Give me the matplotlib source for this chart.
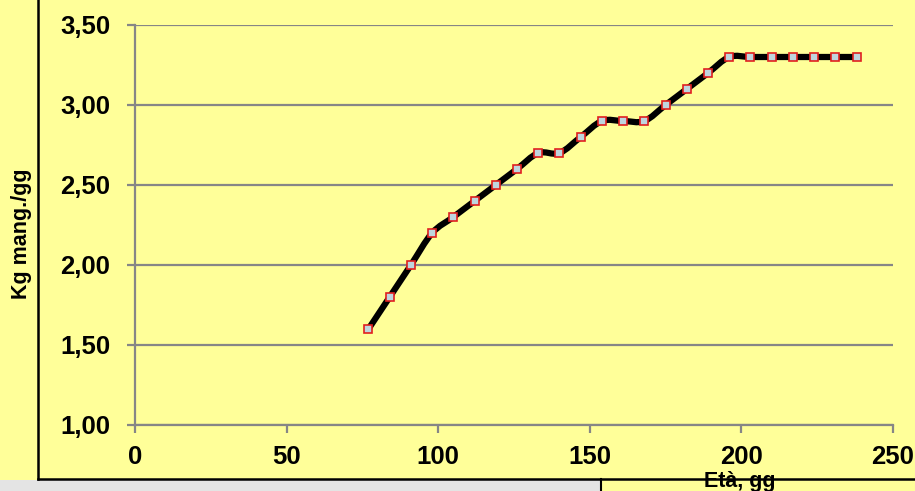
import matplotlib.pyplot as plt
from matplotlib.path import Path
from matplotlib.patches import PathPatch, Rectangle
from matplotlib.lines import Line2D
from matplotlib.ticker import FuncFormatter
import numpy as np

plt.rcParams['font.family'] = ['Liberation Sans', 'DejaVu Sans']

# eta' (giorni) e consumo di mangime (kg/giorno)
eta = [77, 84, 91, 98, 105, 112, 119, 126, 133, 140, 147, 154, 161, 168,
       175, 182, 189, 196, 203, 210, 217, 224, 231, 238]
kg_mang = [1.6, 1.8, 2.0, 2.2, 2.3, 2.4, 2.5, 2.6, 2.7, 2.7, 2.8, 2.9, 2.9, 2.9,
           3.0, 3.1, 3.2, 3.3, 3.3, 3.3, 3.3, 3.3, 3.3, 3.3]

x_ticks = [0, 50, 100, 150, 200, 250]
y_ticks = [1.0, 1.5, 2.0, 2.5, 3.0, 3.5]

giallo = '#FFFF99'
W, H = 915, 491

fig = plt.figure(figsize=(W / 100, H / 100), dpi=100, facecolor=giallo)
ax = fig.add_axes([135 / W, 1 - 425 / H, 758 / W, 400 / H])
ax.set_facecolor(giallo)

ax.set_xlim(0, 250)
ax.set_ylim(1.0, 3.5)
ax.set_xticks(x_ticks)
ax.set_yticks(y_ticks)
ax.yaxis.set_major_formatter(FuncFormatter(lambda v, p: f'{v:.2f}'.replace('.', ',')))

ax.grid(axis='y', color='#868686', lw=1.6)
ax.set_axisbelow(True)
for s in ['top', 'right']:
    ax.spines[s].set_visible(False)
for s in ['left', 'bottom']:
    ax.spines[s].set_color('#868686')
    ax.spines[s].set_linewidth(1.6)
ax.tick_params(axis='both', length=6, width=1.6, color='#868686',
               labelsize=18.5, direction='out')
ax.tick_params(axis='y', pad=12)
ax.tick_params(axis='x', pad=8.5)
for lab in ax.get_xticklabels() + ax.get_yticklabels():
    lab.set_fontweight('bold')

# curva smussata (Catmull-Rom -> Bezier) passante per i punti
pts = np.column_stack([eta, kg_mang]).astype(float)
verts = [pts[0]]
codes = [Path.MOVETO]
n = len(pts)
for i in range(n - 1):
    p0 = pts[i - 1] if i > 0 else pts[i]
    p1 = pts[i]
    p2 = pts[i + 1]
    p3 = pts[i + 2] if i + 2 < n else pts[i + 1]
    verts += [p1 + (p2 - p0) / 6, p2 - (p3 - p1) / 6, p2]
    codes += [Path.CURVE4] * 3
ax.add_patch(PathPatch(Path(verts, codes), fill=False, edgecolor='black',
                       lw=4.5, capstyle='round', joinstyle='round', zorder=3))
ax.plot(eta, kg_mang, ls='none', marker='s', ms=6, mfc='#bfd5de',
        mec='#e02020', mew=1.2, zorder=4)

# cornice dell'area grafico
fig.add_artist(Line2D([37.5 / W, 37.5 / W], [1, 1 - 479 / H], color='black', lw=1.8))
fig.add_artist(Line2D([37.5 / W, 1], [1 - 479 / H, 1 - 479 / H], color='black', lw=1.8))
fig.add_artist(Rectangle((0, 0), 601 / W, 1 - 480 / H, facecolor='#e4e4e4',
                         edgecolor='none'))
fig.add_artist(Line2D([601 / W, 601 / W], [0, 1 - 479 / H], color='black', lw=1.5))

fig.text(22 / W, 1 - 234 / H, 'Kg mang./gg', rotation=90, ha='center', va='center',
         fontsize=15.5, fontweight='bold')
fig.text(740 / W, 1 - 487 / H, 'Età, gg', ha='center', va='baseline',
         fontsize=15.5, fontweight='bold')

fig.savefig('out.png', dpi=100, facecolor=giallo)
